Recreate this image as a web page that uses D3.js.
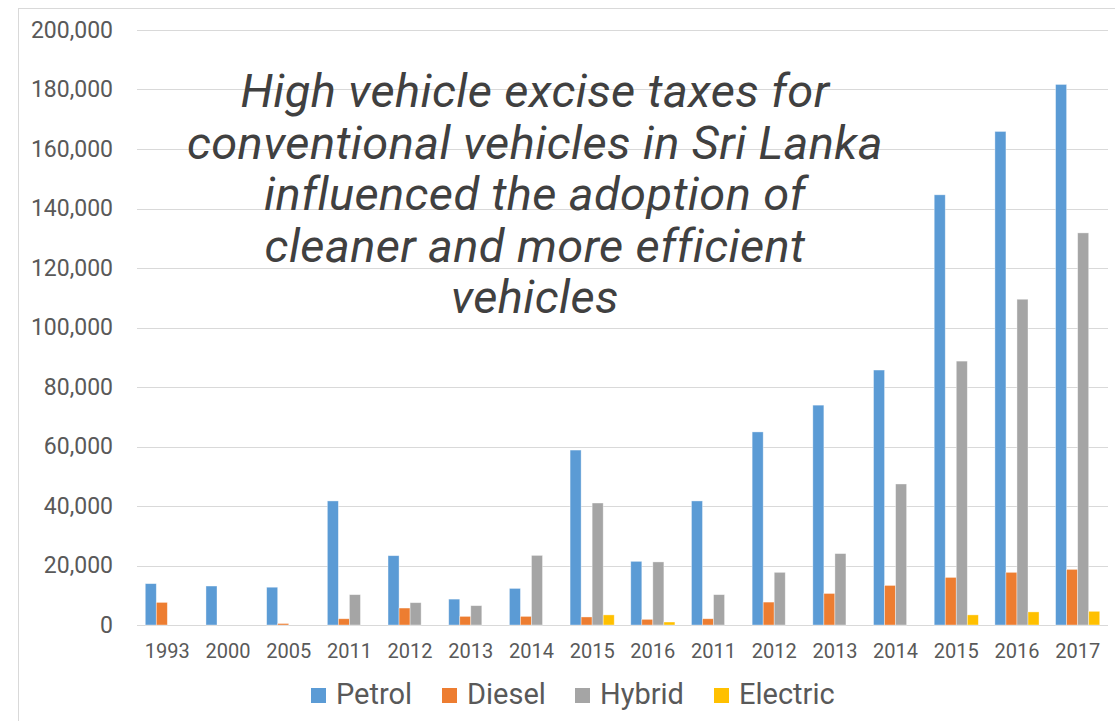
<!DOCTYPE html>
<html><head><meta charset="utf-8">
<script src="https://cdn.jsdelivr.net/npm/d3@7"></script>
<style>body{margin:0;background:#fff;}svg{display:block;font-family:Roboto,"Noto Sans",sans-serif;}</style>
</head><body><svg id="c" width="1115" height="721"></svg>
<script>
const categories = ["1993","2000","2005","2011","2012","2013","2014","2015","2016","2011","2012","2013","2014","2015","2016","2017"];
const seriesNames = ["Petrol","Diesel","Hybrid","Electric"];
const petrol   = [13900,13100,12700,41700,23300,8700,12300,58800,21400,41700,64900,73900,85700,144600,165900,181700];
const diesel   = [7600,0,500,2100,5700,2900,2900,2700,1900,2100,7700,10600,13300,16000,17700,18700];
const hybrid   = [0,0,0,10200,7500,6500,23400,41000,21200,10200,17700,24000,47400,88700,109500,131800];
const electric = [0,0,0,0,0,0,0,3400,1000,0,0,0,0,3400,4400,4600];
const colors = ["#5b9bd5","#ed7d31","#a5a5a5","#ffc000"];
const yTicks = [0,20000,40000,60000,80000,100000,120000,140000,160000,180000,200000];
const titleLines = ["High vehicle excise taxes for","conventional vehicles in Sri Lanka","influenced the adoption of","cleaner and more efficient","vehicles"];

(function(){
const values = [petrol, diesel, hybrid, electric];
const svg = d3.select("#c");
const L = 137, R = 1108, T = 30, B = 625;

svg.append("rect").attr("x",18.5).attr("y",8.5).attr("width",1120).attr("height",730)
  .attr("fill","#fff").attr("stroke","#d9d9d9");

const y = d3.scaleLinear().domain([0,200000]).range([B, T]);
const x = d3.scaleBand().domain(d3.range(categories.length)).range([L,R]).padding(0);
const bw = x.bandwidth()/5.5;
const inner = d3.scaleBand().domain(d3.range(4)).range([0.75*bw, 4.75*bw]).padding(0);

svg.append("g").selectAll("line").data(yTicks).join("line")
  .attr("x1",L).attr("x2",R)
  .attr("y1",d=>Math.round(y(d))+0.5).attr("y2",d=>Math.round(y(d))+0.5)
  .attr("stroke","#d9d9d9").attr("stroke-width",1);

const yAxis = d3.axisLeft(y).tickValues(yTicks).tickFormat(d3.format(",")).tickSize(0).tickPadding(0);
const ga = svg.append("g").attr("transform",`translate(113,0)`).call(yAxis);
ga.select(".domain").remove();
ga.selectAll("text").attr("fill","#595959").style("font-size","23px").style("font-family","Roboto");

const xAxis = d3.axisBottom(x).tickFormat(i=>categories[i]).tickSize(0).tickPadding(0);
const gx = svg.append("g").attr("transform",`translate(0,${B+19})`).call(xAxis);
gx.select(".domain").remove();
gx.selectAll("text").attr("fill","#595959").style("font-size","20px").style("font-family","Roboto");

values.forEach((arr, s) => {
  svg.append("g").selectAll("rect").data(arr).join("rect")
    .attr("x",(d,i)=>x(i)+inner(s))
    .attr("width",inner.bandwidth())
    .attr("y",d=>y(d))
    .attr("height",d=>B - y(d))
    .attr("fill",colors[s])
    .attr("stroke","#fff").attr("stroke-opacity",0.5).attr("stroke-width",0.75);
});

const t = svg.append("text").attr("x",535).attr("text-anchor","middle")
  .attr("fill","#404040").style("font-size","47px").style("letter-spacing","0.4px")
  .style("font-style","italic").style("font-family","Roboto");
titleLines.forEach((l,i)=>{
  t.append("tspan").attr("x",535).attr("y",107+i*51.5).text(l);
});

const legX = [311,442,575,714];
const lg = svg.append("g");
seriesNames.forEach((n,i)=>{
  lg.append("rect").attr("x",legX[i]).attr("y",688).attr("width",15).attr("height",15).attr("fill",colors[i]);
  lg.append("text").attr("x",legX[i]+25).attr("y",704).attr("fill","#595959")
    .style("font-size","29px").style("font-family","Roboto").text(n);
});
})();
</script></body></html>
